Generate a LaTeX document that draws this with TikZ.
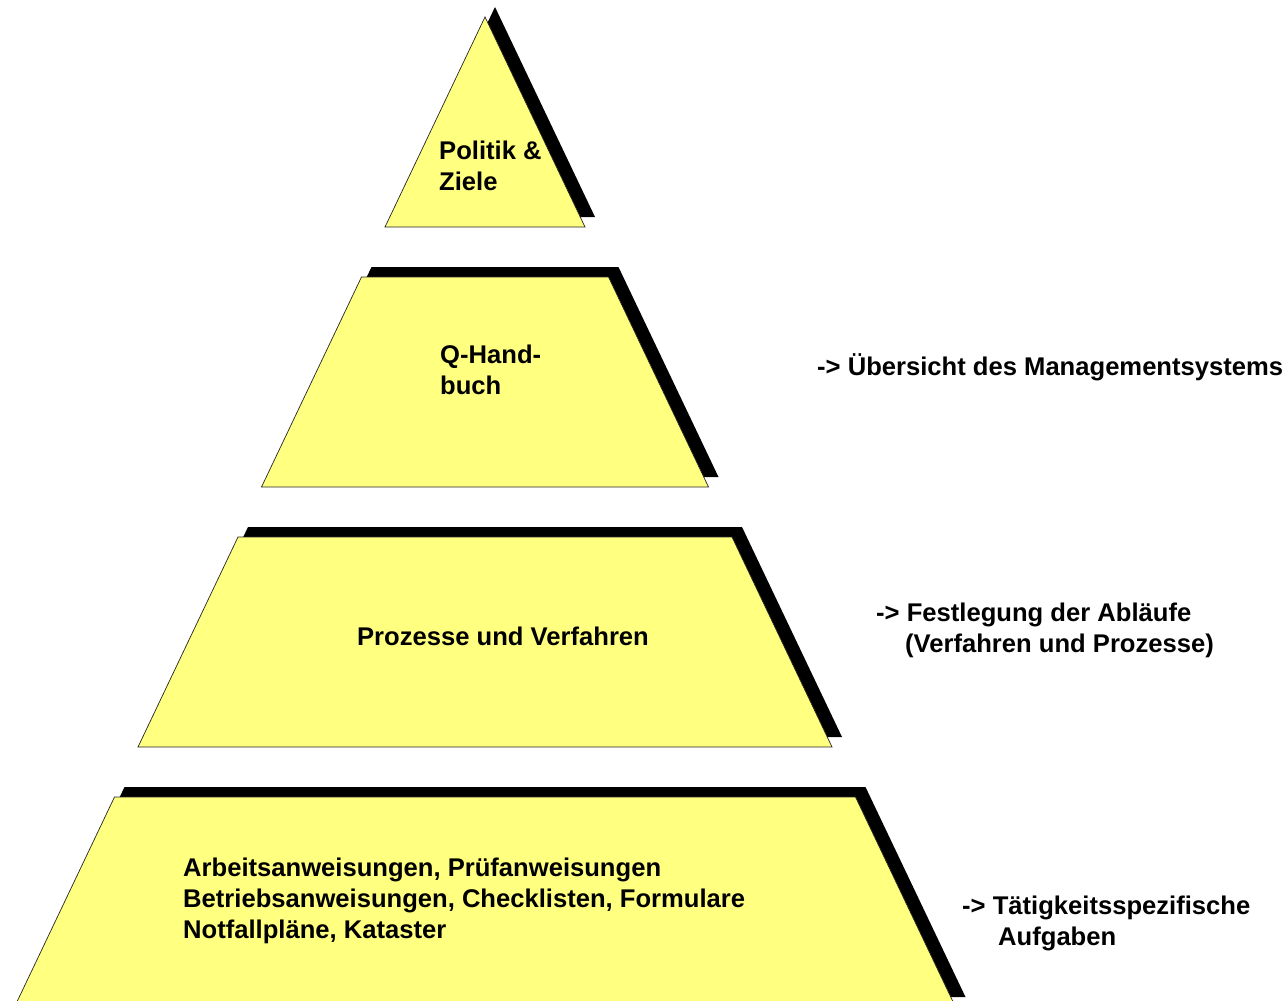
\documentclass[tikz,border=0pt]{standalone}
\usepackage{fontspec}
\setmainfont{Liberation Sans}
\definecolor{pyellow}{HTML}{FFFF80}
\begin{document}
\begin{tikzpicture}[x=1pt,y=-1pt,
  shadowfill/.style={fill=black},
  levelbox/.style={fill=pyellow,draw=black!85,line width=0.7pt,line join=miter},
  lbl/.style={font=\bfseries\fontsize{25.6}{31}\selectfont,align=left,inner sep=0pt,text=black}]
\useasboundingbox (0,0) rectangle (1288,1001);
\clip (0,0) rectangle (1288,1001);
\fill[white] (0,0) rectangle (1288,1001);
\foreach \i in {0,1,2,3}{
  \pgfmathsetmacro\ty{17+260*\i}
  \pgfmathsetmacro\by{\ty+210}
  \pgfmathsetmacro\th{123.5*\i}
  \pgfmathsetmacro\bh{\th+100}
  \fill[shadowfill] ({495-\th},{\ty-10}) -- ({495+\th},{\ty-10}) -- ({495+\bh},{\by-10}) -- ({495-\bh},{\by-10}) -- cycle;
  \filldraw[levelbox] ({485-\th},{\ty}) -- ({485+\th},{\ty}) -- ({485+\bh},{\by}) -- ({485-\bh},{\by}) -- cycle;
}
\node[lbl,anchor=west] (politik) at (439,166) {Politik \&\\Ziele};
\node[lbl,anchor=west] (qhb) at (440,370) {Q-Hand-\\buch};
\node[lbl] (proz) at (503,636) {Prozesse und Verfahren};
\node[lbl,anchor=west] (arb) at (183,901) {Arbeitsanweisungen, Prüfanweisungen\\Betriebsanweisungen, Checklisten, Formulare\\Notfallpläne, Kataster};
\node[lbl,anchor=west] (ueb) at (817,367) {-> Übersicht des Managementsystems};
\node[lbl,anchor=west] (fest) at (876,630) {-> Festlegung der Abläufe\\\hspace*{29pt}(Verfahren und Prozesse)};
\node[lbl,anchor=west] (taet) at (962,923) {-> Tätigkeitsspezifische\\\hspace*{36pt}Aufgaben};
\end{tikzpicture}
\end{document}
